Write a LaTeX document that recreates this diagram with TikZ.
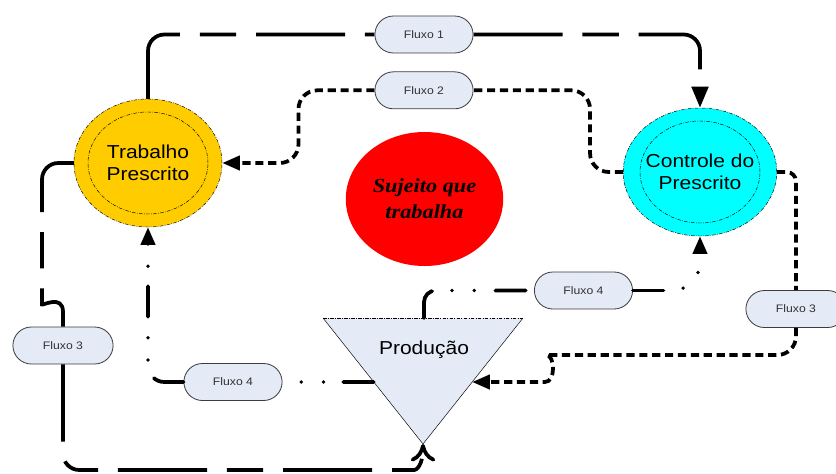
\documentclass[tikz,border=0pt]{standalone}
\usepackage{fontspec}
\setmainfont{Liberation Sans}[FakeStretch=1.12]
\newfontfamily\sujeitofont{Liberation Serif}[FakeStretch=1.12]
\usetikzlibrary{positioning,calc,arrows.meta,shapes.geometric,shapes.misc}
\definecolor{ouro}{RGB}{255,204,0}
\definecolor{ciano}{RGB}{0,255,255}
\definecolor{azulclaro}{RGB}{228,235,247}
\definecolor{cinzaborda}{RGB}{60,60,60}
\definecolor{cinzatexto}{RGB}{50,50,50}

\begin{document}
\begin{tikzpicture}[x=0.03cm,y=-0.03cm,
    borda/.style={line width=0.4pt,dash pattern=on 3pt off 1.2pt on 0.6pt off 1.2pt},
    estado/.style={ellipse,draw,borda,minimum width=4.44cm,minimum height=3.84cm,inner sep=0pt,
        align=center,font=\fontsize{16}{18.7}\selectfont},
    fluxo/.style={rounded rectangle,draw=cinzaborda,line width=0.7pt,fill=azulclaro,
        minimum width=3.18cm,minimum height=1.11cm,text=cinzatexto,font=\fontsize{9.3}{11}\selectfont},
    traco/.style={line width=3.2pt,rounded corners=14pt,dash pattern=on 76pt off 17pt on 31pt off 17pt},
    pontilhado/.style={line width=3.2pt,rounded corners=16pt,dash pattern=on 7pt off 4pt},
    tracoponto/.style={line width=3.2pt,line cap=round,rounded corners=14pt,
        dash pattern=on 26pt off 17pt on 0pt off 19pt on 0pt off 18pt},
    seta/.style={-{Triangle[length=15pt,width=12pt]}},
    setagrande/.style={-{Triangle[length=18pt,width=14pt]}},
    setaaberta/.style={-{Computer Modern Rightarrow[length=15pt,width=21pt]}}]
    \useasboundingbox (0,0) rectangle (836,473);

    \node[estado,fill=ouro] (tp) at (148,163) {Trabalho\\Prescrito};
    \draw[borda] (tp.center) ellipse [x radius=1.8cm,y radius=1.53cm];
    \node[estado,fill=ciano] (cp) at (700,172) {Controle do\\Prescrito};
    \draw[borda] (cp.center) ellipse [x radius=1.8cm,y radius=1.53cm];
    \node[ellipse,fill=red,minimum width=4.65cm,minimum height=4.02cm,align=center,
        font=\sujeitofont\bfseries\itshape\fontsize{17}{22}\selectfont] (suj) at (424.5,199) {Sujeito que\\trabalha};

    \coordinate (pNO) at (323,318);
    \coordinate (pNE) at (523,318);
    \coordinate (pS) at (423,444);
    \coordinate (pN) at ($(pNO)!0.505!(pNE)$);
    \coordinate (pW) at ($(pNO)!0.508!(pS)$);
    \coordinate (pE) at ($(pNE)!0.508!(pS)$);
    \fill[azulclaro] (pNO) -- (pNE) -- (pS) -- cycle;
    \draw[borda] (pNO) -- (pNE);
    \draw[line width=0.4pt] (pNE) -- (pS) -- (pNO);
    \node[font=\fontsize{16}{18.7}\selectfont] (prod) at (424,350) {Produção};

    \node[fluxo] (f1) at (424,34.5) {Fluxo 1};
    \node[fluxo] (f2) [below=0.54cm of f1] {Fluxo 2};
    \node[fluxo,minimum width=3.24cm] (f3a) at (63,345.5) {Fluxo 3};
    \node[fluxo,minimum width=3.24cm] (f3b) at (796,309) {Fluxo 3};
    \node[fluxo] (f4a) at (233,382) {Fluxo 4};
    \node[fluxo] (f4b) at (583.5,290.5) {Fluxo 4};

    \draw[traco] (tp.north) |- (f1.west);
    \draw[traco,setagrande] (f1.east) -| (cp.north);

    \draw[pontilhado] (cp.west) -- ++(-33,0) |- (f2.east);
    \draw[pontilhado,seta] (f2.west) -- ++(-76,0) |- (tp.east);

    \draw[traco,dash phase=13pt] (tp.west) -| (42,288) [sharp corners] .. controls (42,306) and (63,294) .. (63,312) -- (f3a.north);
    \draw[traco,dash phase=10pt,setaaberta] (f3a.south) |- (398,470) [sharp corners] .. controls (416,470) and (423,466) .. (pS);

    \draw[pontilhado,rounded corners=8pt] (cp.east) -| (f3b.north);
    \draw[pontilhado,seta] (f3b.south) |- (565,355) [sharp corners] .. controls (555,355) and (556,382) .. (545,382) -- (pE);

    \draw[tracoponto] (pW) -- (f4a.east);
    \draw[tracoponto,seta] (f4a.west) -| (tp.south);
    \draw[tracoponto,rounded corners=10pt] (pN) |- (f4b.west);
    \draw[tracoponto,rounded corners=24pt,seta] (f4b.east) -| (cp.south);
\end{tikzpicture}
\end{document}
